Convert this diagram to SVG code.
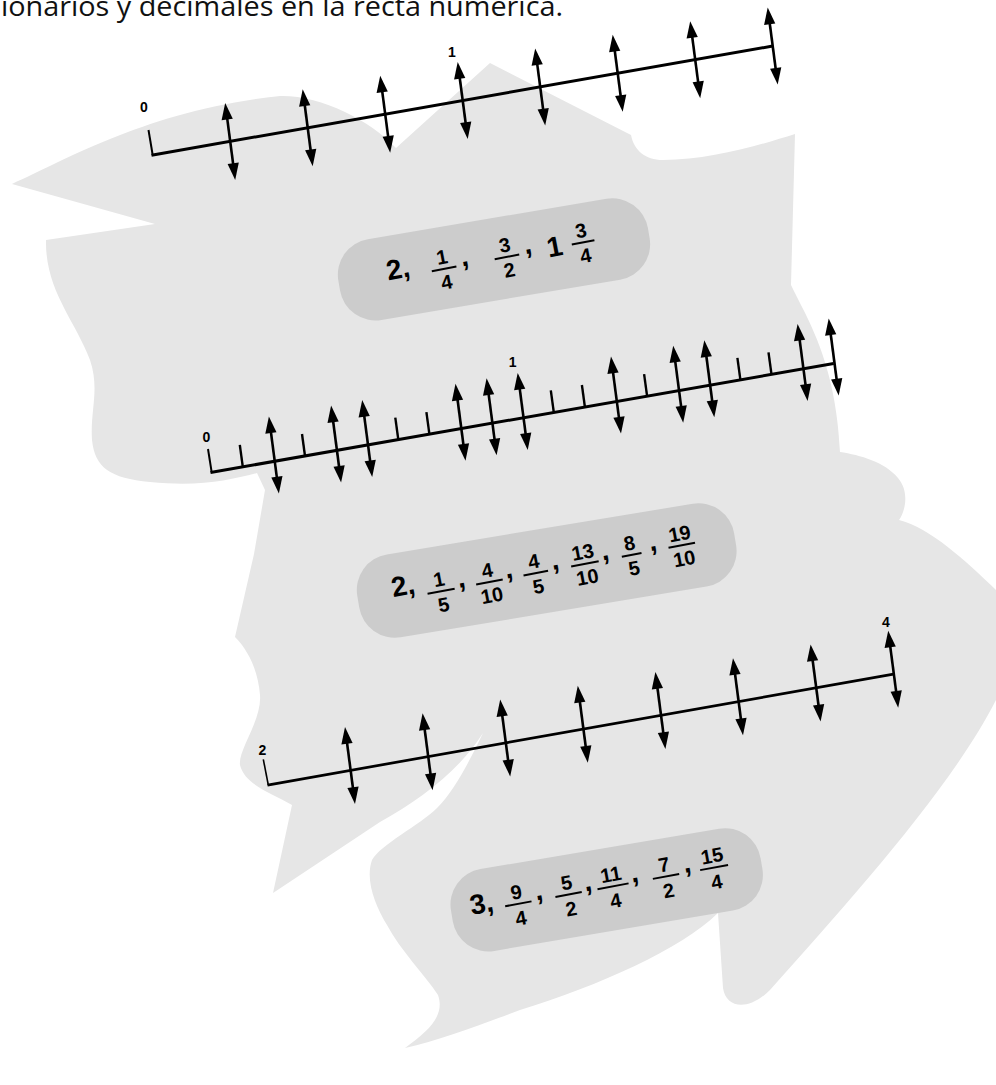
<svg xmlns="http://www.w3.org/2000/svg" xmlns:xlink="http://www.w3.org/1999/xlink" width="996" height="1085" viewBox="0 0 996 1085">
<style>
.ln{stroke:#000;stroke-width:3;fill:none}
.br{stroke:#000;stroke-width:2;fill:none}
.tk{stroke:#000;stroke-width:2.4}
.lbl{font-family:"Liberation Sans",Arial,sans-serif;font-weight:bold;font-size:14px;text-anchor:middle;fill:#000}
.big{font-family:"Liberation Sans",Arial,sans-serif;font-weight:bold;font-size:28px;fill:#000}
.fr{font-family:"Liberation Sans",Arial,sans-serif;font-weight:bold;font-size:20px;text-anchor:middle;fill:#000}
.bar{stroke:#000;stroke-width:2}
.box{fill:#cccccc}
.title{font-family:"Open Sans","Noto Sans",sans-serif;font-size:28px;fill:#111}
</style>
<defs>
<g id="dbl">
<line x1="-3.4" y1="-26" x2="3.4" y2="26" stroke="#000" stroke-width="2.6"/>
<polygon points="-5,-38.5 2.6,-22.6 -8.6,-21.1" fill="#000"/>
<polygon points="5,38.5 8.6,21.1 -2.6,22.6" fill="#000"/>
</g>
</defs>
<rect width="996" height="1085" fill="#fff"/>
<path id="blob" fill="#e6e6e6" d="M12,184 C70,158 150,110 280,96 C320,95 370,120 396,148 L490,63 L631,135 C634,150 645,160 663,160 C710,160 760,145 795,134 L791,285 C805,315 836,360 840,452 C860,455 885,462 898,478 C910,492 905,512 899,520 C930,528 965,560 996,590 L996,700 C950,790 850,900 770,990 C748,1012 726,1008 723,988 L718,913 C680,950 600,985 520,1010 C480,1025 440,1040 405,1048 C430,1030 445,1015 438,995 C425,975 400,950 387,925 C375,905 365,880 372,860 C380,845 420,825 437,808 C455,790 470,760 483,733 C460,770 420,800 380,822 L273,893 L292,805 C270,792 245,785 240,765 C238,750 262,720 260,695 C258,670 248,650 235,637 L254,554 L265,490 L257,473 C230,480 200,487 150,482 C110,478 95,468 92,440 C90,410 100,390 90,360 C75,320 45,290 46,240 L155,224 Z"/>
<text class="title" x="1" y="15.5" textLength="562" lengthAdjust="spacingAndGlyphs">ionarios y decimales en la recta numérica.</text>

<g id="line1">
<line class="br" x1="148.5" y1="130" x2="152.7" y2="155"/>
<line class="ln" x1="151.5" y1="155.2" x2="772.7" y2="46.04"/>
<use href="#dbl" x="230.2" y="141.38"/>
<use href="#dbl" x="307.7" y="127.76"/>
<use href="#dbl" x="385.2" y="114.14"/>
<use href="#dbl" x="462.7" y="100.52"/>
<use href="#dbl" x="540.2" y="86.9"/>
<use href="#dbl" x="617.7" y="73.28"/>
<use href="#dbl" x="695.2" y="59.66"/>
<use href="#dbl" x="772.7" y="46.04"/>
<text class="lbl" x="144" y="112">0</text>
<text class="lbl" x="452" y="57">1</text>
</g>

<g id="box1">
<rect class="box" x="-157" y="-41" width="314" height="82" rx="36" transform="translate(494,259.4) rotate(-9.6)"/>
<g transform="translate(388.3,280.5) rotate(-10.8)">
<text class="big" x="0" y="0">2,</text>
<text class="fr" x="57" y="-6">1</text><line class="bar" x1="44.5" y1="-1" x2="69.5" y2="-1"/><text class="fr" x="57" y="19.5">4</text>
<text class="big" x="75" y="0">,</text>
<text class="fr" x="121" y="-6">3</text><line class="bar" x1="108.5" y1="-1" x2="133.5" y2="-1"/><text class="fr" x="121" y="19.5">2</text>
<text class="big" x="139.5" y="0">,</text>
<text class="big" x="162" y="7.5">1</text>
<text class="fr" x="198.5" y="-6">3</text><line class="bar" x1="187" y1="-1" x2="210" y2="-1"/><text class="fr" x="198.5" y="19.5">4</text>
</g>
</g>

<g id="line2">
<line class="br" x1="208" y1="449" x2="211.7" y2="472.3"/>
<line class="ln" x1="210.5" y1="472.5" x2="833.7" y2="363.46"/>
<line class="tk" x1="242.8" y1="466.86" x2="239.8" y2="444.86"/>
<line class="tk" x1="305" y1="455.97" x2="302" y2="433.97"/>
<line class="tk" x1="398.3" y1="439.65" x2="395.3" y2="417.65"/>
<line class="tk" x1="429.4" y1="434.21" x2="426.4" y2="412.21"/>
<line class="tk" x1="553.8" y1="412.44" x2="550.8" y2="390.44"/>
<line class="tk" x1="584.9" y1="407" x2="581.9" y2="385"/>
<line class="tk" x1="647.1" y1="396.11" x2="644.1" y2="374.11"/>
<line class="tk" x1="740.4" y1="379.79" x2="737.4" y2="357.79"/>
<line class="tk" x1="771.5" y1="374.34" x2="768.5" y2="352.34"/>
<use href="#dbl" x="273.9" y="454.92"/>
<use href="#dbl" x="336.1" y="444.03"/>
<use href="#dbl" x="367.2" y="438.59"/>
<use href="#dbl" x="460.5" y="422.26"/>
<use href="#dbl" x="491.6" y="416.82"/>
<use href="#dbl" x="522.7" y="411.38"/>
<use href="#dbl" x="616" y="395.05"/>
<use href="#dbl" x="678.2" y="384.17"/>
<use href="#dbl" x="709.3" y="378.73"/>
<use href="#dbl" x="802.6" y="362.4"/>
<use href="#dbl" x="833.7" y="356.96"/>
<text class="lbl" x="206.3" y="441.5">0</text>
<text class="lbl" x="512.7" y="367">1</text>
</g>

<g id="box2">
<rect class="box" x="-191" y="-42" width="382" height="84" rx="36" transform="translate(546.7,570.5) rotate(-9.4)"/>
<g transform="translate(393.3,597.3) rotate(-10.8)">
<text class="big" x="0" y="0">2,</text>
<text class="fr" x="48.1" y="-2">1</text><line class="bar" x1="34.3" y1="3" x2="61.9" y2="3"/><text class="fr" x="48.1" y="23.5">5</text>
<text class="big" x="66" y="3">,</text>
<text class="fr" x="97.3" y="-2">4</text><line class="bar" x1="83.8" y1="3" x2="110.8" y2="3"/><text class="fr" x="97.3" y="23.5">10</text>
<text class="big" x="114.5" y="3">,</text>
<text class="fr" x="144.5" y="-2">4</text><line class="bar" x1="132" y1="3" x2="157" y2="3"/><text class="fr" x="144.5" y="23.5">5</text>
<text class="big" x="161.5" y="3">,</text>
<text class="fr" x="194.5" y="-2">13</text><line class="bar" x1="180.5" y1="3" x2="208.5" y2="3"/><text class="fr" x="194.5" y="23.5">10</text>
<text class="big" x="212.5" y="3">,</text>
<text class="fr" x="242.1" y="-2">8</text><line class="bar" x1="232.1" y1="3" x2="252.1" y2="3"/><text class="fr" x="242.1" y="23.5">5</text>
<text class="big" x="261" y="3">,</text>
<text class="fr" x="293.1" y="-2">19</text><line class="bar" x1="279.6" y1="3" x2="306.6" y2="3"/><text class="fr" x="293.1" y="23.5">10</text>
</g>
</g>

<g id="line3">
<line class="br" x1="263.3" y1="759.3" x2="268.3" y2="785" style="stroke-width:1.6"/>
<line class="ln" x1="267.5" y1="785.1" x2="893.5" y2="674.1" style="stroke-width:2.7"/>
<use href="#dbl" x="350" y="765.51"/>
<use href="#dbl" x="427.6" y="751.76"/>
<use href="#dbl" x="505.2" y="738"/>
<use href="#dbl" x="582.8" y="724.24"/>
<use href="#dbl" x="660.4" y="710.48"/>
<use href="#dbl" x="738" y="696.72"/>
<use href="#dbl" x="815.6" y="682.96"/>
<use href="#dbl" x="893.2" y="669.2"/>
<text class="lbl" x="262.5" y="755">2</text>
<text class="lbl" x="886" y="627">4</text>
</g>

<g id="box3">
<rect class="box" x="-157" y="-41.5" width="314" height="83" rx="36" transform="translate(606.7,889.8) rotate(-9.6)"/>
<g transform="translate(471.7,915) rotate(-10.5)">
<text class="big" x="0" y="0">3,</text>
<text class="fr" x="47.9" y="-7.5">9</text><line class="bar" x1="34.5" y1="-2.5" x2="61.3" y2="-2.5"/><text class="fr" x="47.9" y="19">4</text>
<text class="big" x="66" y="-2.5">,</text>
<text class="fr" x="99" y="-7.5">5</text><line class="bar" x1="85.6" y1="-2.5" x2="112.4" y2="-2.5"/><text class="fr" x="99" y="19">2</text>
<text class="big" x="116" y="-2.5">,</text>
<text class="fr" x="144.2" y="-7.5">11</text><line class="bar" x1="128.4" y1="-2.5" x2="160" y2="-2.5"/><text class="fr" x="144.2" y="19">4</text>
<text class="big" x="163.5" y="-2.5">,</text>
<text class="fr" x="198.1" y="-7.5">7</text><line class="bar" x1="184.7" y1="-2.5" x2="211.5" y2="-2.5"/><text class="fr" x="198.1" y="19">2</text>
<text class="big" x="217" y="-2.5">,</text>
<text class="fr" x="247" y="-7.5">15</text><line class="bar" x1="232.8" y1="-2.5" x2="261.2" y2="-2.5"/><text class="fr" x="247" y="19">4</text>
</g>
</g>
</svg>
